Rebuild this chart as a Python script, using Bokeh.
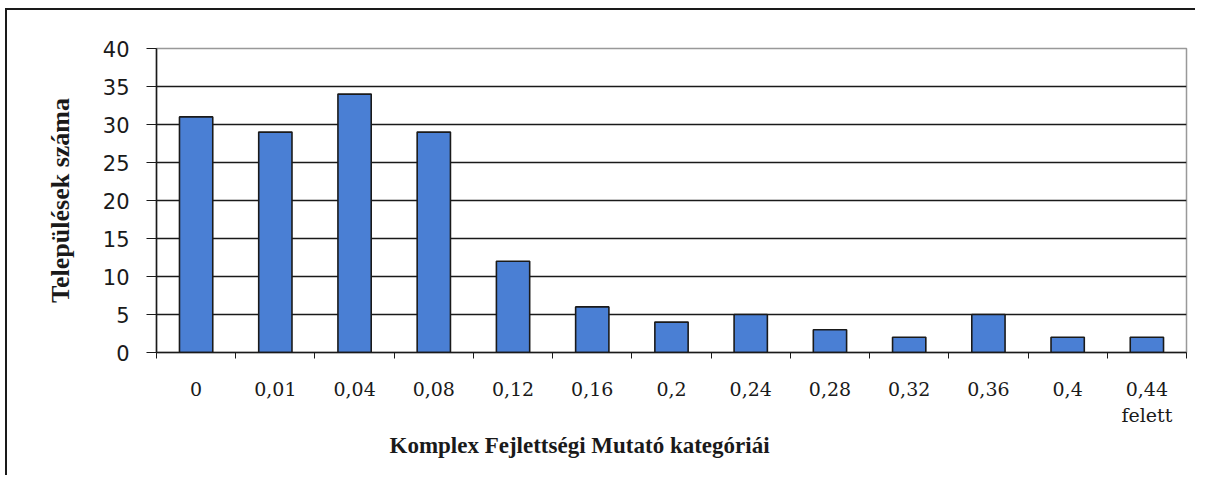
from bokeh.plotting import figure
from bokeh.models import Range1d, FixedTicker, Title, ColumnDataSource
from bokeh.embed import file_html
from bokeh.resources import INLINE

categories = ["0", "0,01", "0,04", "0,08", "0,12", "0,16", "0,2", "0,24",
              "0,28", "0,32", "0,36", "0,4", "0,44\nfelett"]
counts = [31, 29, 34, 29, 12, 6, 4, 5, 3, 2, 5, 2, 2]
y_ticks = [0, 5, 10, 15, 20, 25, 30, 35, 40]

n = len(categories)
centers = [i + 0.5 for i in range(n)]
src = ColumnDataSource(dict(x=centers, top=counts, cat=categories))

p = figure(width=1190, height=467, output_backend="svg", toolbar_location=None,
           x_range=Range1d(0, n), y_range=Range1d(0, 40),
           min_border_left=149, min_border_right=11, min_border_top=38,
           min_border_bottom=125)
p.styles = {"border-left": "2px solid #1a1a1a", "border-top": "2px solid #1a1a1a",
            "margin-left": "5px", "margin-top": "8px"}

p.vbar(x="x", top="top", width=0.42, bottom=0, source=src,
       fill_color="#4a7fd4", line_color="#1a1a1a", line_width=1.6)

# x axis
p.xaxis.ticker = FixedTicker(ticks=centers, minor_ticks=list(range(n + 1)))
p.xaxis.major_label_overrides = {c: lab for c, lab in zip(centers, categories)}
p.xaxis.major_tick_out = 0
p.xaxis.major_tick_in = 0
p.xaxis.minor_tick_out = 6
p.xaxis.minor_tick_in = 0
p.xaxis.minor_tick_line_color = "#1a1a1a"
p.xaxis.axis_line_color = "#1a1a1a"
p.xaxis.axis_line_width = 1.5
p.xaxis.major_label_text_font = "DejaVu Serif"
p.xaxis.major_label_text_font_size = "19px"
p.xaxis.major_label_text_color = "#1a1a1a"
p.xaxis.major_label_standoff = 19

# y axis
p.yaxis.ticker = FixedTicker(ticks=y_ticks)
p.yaxis.minor_tick_line_color = None
p.yaxis.major_tick_out = 10
p.yaxis.major_tick_in = 0
p.yaxis.major_tick_line_color = "#1a1a1a"
p.yaxis.axis_line_color = "#1a1a1a"
p.yaxis.axis_line_width = 1.5
p.yaxis.major_label_text_font = "DejaVu Sans"
p.yaxis.major_label_text_font_size = "21px"
p.yaxis.major_label_text_color = "#1a1a1a"
p.yaxis.major_label_standoff = 17
p.yaxis.axis_label = "Települések száma"
p.yaxis.axis_label_text_font = "Liberation Serif"
p.yaxis.axis_label_text_font_style = "bold"
p.yaxis.axis_label_text_font_size = "26px"
p.yaxis.axis_label_text_color = "#1a1a1a"
p.yaxis.axis_label_standoff = 25

p.xgrid.grid_line_color = None
p.ygrid.ticker = FixedTicker(ticks=y_ticks)
p.ygrid.grid_line_color = "#1a1a1a"
p.ygrid.grid_line_width = 1.3
p.outline_line_color = "#999999"
p.outline_line_width = 1.5

xtitle = Title(text="Komplex Fejlettségi Mutató kategóriái", align="left",
               offset=233, standoff=5,
               text_font="Liberation Serif", text_font_style="bold",
               text_font_size="23px", text_color="#1a1a1a")
p.add_layout(xtitle, "below")

open("out.html", "w").write(file_html(p, INLINE))
